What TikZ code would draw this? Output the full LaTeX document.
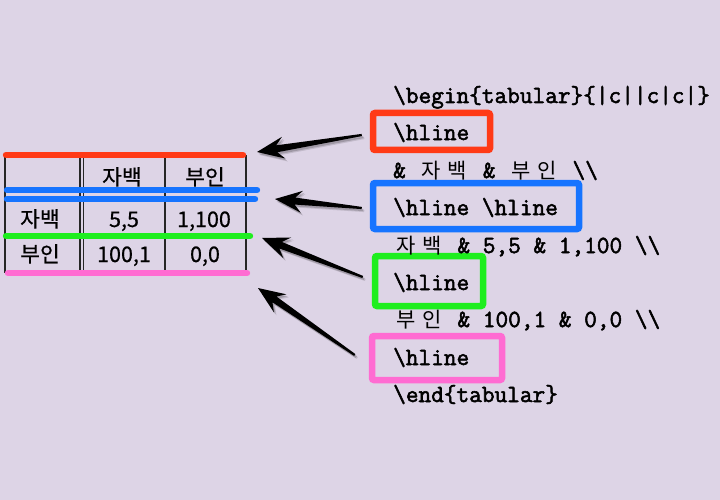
\documentclass[tikz,border=0pt]{standalone}
\usepackage{fontspec}
\newfontfamily\kofont{Noto Sans CJK KR}
\newfontfamily\kotab{Noto Sans CJK KR}[FakeBold=0.5]
\newfontfamily\codefont{Latin Modern Mono}[FakeBold=2.2]
\usetikzlibrary{calc}
\definecolor{bg}{RGB}{221,212,230}
\definecolor{hred}{RGB}{255,58,22}
\definecolor{hblue}{RGB}{22,116,255}
\definecolor{hgreen}{RGB}{30,238,30}
\definecolor{hpink}{RGB}{255,108,210}
\newcommand\kc[1]{\makebox[1.05em][c]{\kofont\fontsize{21}{24}\selectfont #1}}
\newcommand\bs{\textbackslash}
\tikzset{
  cell/.style={anchor=base, inner sep=0pt, font=\kotab\fontsize{21.5}{25}\selectfont},
  code/.style={anchor=base west, inner sep=0pt, font=\codefont\fontsize{24.6}{28}\selectfont},
  hbox/.style={draw, line width=6.5pt, rounded corners=2pt, inner sep=0pt},
  hrule/.style={line width=6.4pt, line cap=round},
  vrule/.style={line width=1.2pt, black!85},
  taper/.style={fill=black, to path={
    ($(\tikztotarget)!20pt!(\tikztostart)$) coordinate (tpnb)
    ($(\tikztotarget)!27pt!(\tikztostart)$) coordinate (tpwb)
    ($(\tikztostart)!1.1pt!90:(\tikztotarget)$)
    -- ($(tpnb)!3.5pt!-90:(\tikztostart)$)
    -- ($(tpwb)!11pt!-90:(\tikztostart)$)
    -- (\tikztotarget)
    -- ($(tpwb)!11pt!90:(\tikztostart)$)
    -- ($(tpnb)!3.5pt!90:(\tikztostart)$)
    -- ($(\tikztostart)!1.1pt!-90:(\tikztotarget)$) -- cycle}},
  shadowA/.style={taper, fill=black, opacity=0.18, transform canvas={xshift=1.5pt, yshift=-2pt}},
  shadowB/.style={taper, fill=black, opacity=0.12, transform canvas={xshift=2.5pt, yshift=-3pt}},
}
\begin{document}
\begin{tikzpicture}[x=1pt,y=-1pt]
\fill[bg] (0,0) rectangle (720,500);
\useasboundingbox (0,0) rectangle (720,500);
% table grid
\foreach \xx in {5,80,83.5,165,246} \draw[vrule] (\xx,155) -- (\xx,273);
\draw[hrule, hred]   (6,155) -- (243,155);
\draw[hrule, hblue]  (7,190) -- (257,190);
\draw[hrule, hblue]  (7,199) -- (255,199);
\draw[hrule, hgreen] (6,236) -- (250,236);
\draw[hrule, hpink]  (8,273) -- (247,273);
% table cells
\node[cell] (h1) at (122,185) {자백};
\node[cell] (h2) at (205,185) {부인};
\node[cell] (r1) at (40,227) {자백};
\node[cell] (c11) at (124,227) {5,5};
\node[cell] (c12) at (204,227) {1,100};
\node[cell] (r2) at (40,262) {부인};
\node[cell] (c21) at (124,262) {100,1};
\node[cell] (c22) at (205,262) {0,0};
% code boxes
\node[hbox, draw=hred,   minimum width=117pt, minimum height=37pt] (rbox) at (431.5,131.5) {};
\node[hbox, draw=hblue,  minimum width=206pt, minimum height=46pt] (bbox) at (476,206) {};
\node[hbox, draw=hgreen, minimum width=108pt, minimum height=50pt] (gbox) at (429,281) {};
\node[hbox, draw=hpink,  minimum width=130pt, minimum height=44pt] (pbox) at (437,358) {};
% code lines
\node[code] (l1) at (393,103) {\bs begin\{tabular\}\{|c||c|c|\}};
\node[code] (l2) at (393,140) {\bs hline};
\node[code] (l3) at (393,178) {\&\ \kc{자}\kc{백}\ \&\ \kc{부}\kc{인}\ \bs\bs};
\node[code] (l4) at (393,215) {\bs hline\ \bs hline};
\node[code] (l5) at (393,253) {\kc{자}\kc{백}\ \&\ 5,5\ \&\ 1,100\ \bs\bs};
\node[code] (l6) at (393,290) {\bs hline};
\node[code] (l7) at (393,327) {\kc{부}\kc{인}\ \&\ 100,1\ \&\ 0,0\ \bs\bs};
\node[code] (l8) at (393,365) {\bs hline};
\node[code] (l9) at (393,402) {\bs end\{tabular\}};
% arrows
\coordinate (t1) at ($(rbox.west)+(-8,3.5)$);
\coordinate (t2) at ($(bbox.west)+(-8,2)$);
\coordinate (t3) at ($(gbox.west)+(-9,-4)$);
\coordinate (t4) at ($(pbox.west)+(-14,-3)$);
\coordinate (tip1) at (257,152);
\coordinate (tip2) at (275,199);
\coordinate (tip3) at (262,238);
\coordinate (tip4) at (258,288);
\foreach \a/\b in {t1/tip1,t2/tip2,t3/tip3,t4/tip4}{
  \fill[shadowB] (\a) to (\b);
  \fill[shadowA] (\a) to (\b);
  \fill[taper] (\a) to (\b);
}
\end{tikzpicture}
\end{document}
